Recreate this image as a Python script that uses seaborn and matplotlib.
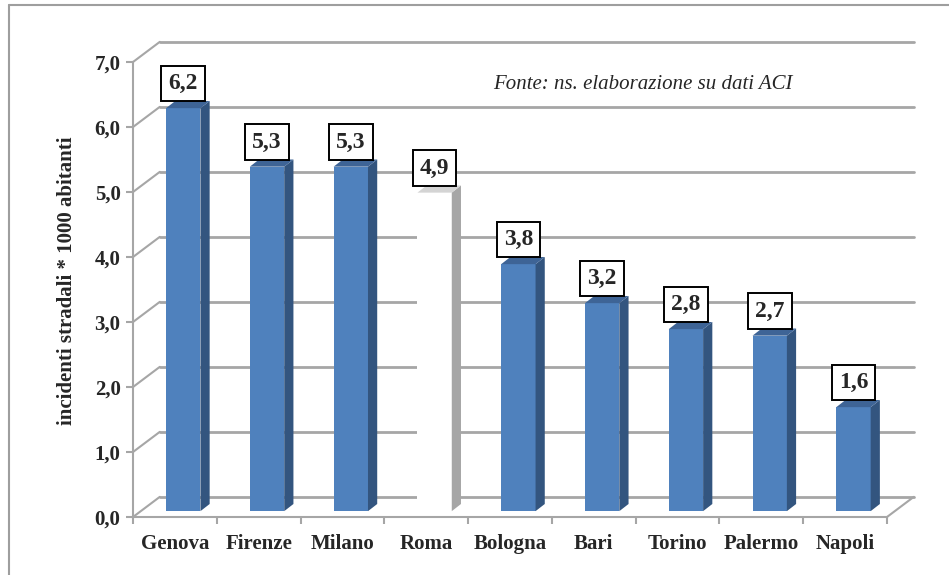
import numpy as np
import matplotlib
matplotlib.use("Agg")
import matplotlib.pyplot as plt
from matplotlib.patches import Polygon
from matplotlib.lines import Line2D
import seaborn as sns

# dati
citta = ["Genova", "Firenze", "Milano", "Roma", "Bologna", "Bari", "Torino", "Palermo", "Napoli"]
valori = [6.2, 5.3, 5.3, 4.9, 3.8, 3.2, 2.8, 2.7, 1.6]
etichette = ["6,2", "5,3", "5,3", "4,9", "3,8", "3,2", "2,8", "2,7", "1,6"]
y_ticks = [0, 1, 2, 3, 4, 5, 6, 7]
y_labels = ["0,0", "1,0", "2,0", "3,0", "4,0", "5,0", "6,0", "7,0"]
evidenziata = "Roma"

# stile
blu, blu_lato, blu_top = "#4F81BD", "#33557F", "#3E6496"
grigio_lato, grigio_top = "#A6A6A6", "#D4D4D4"
griglia = "#A6A6A6"
serif = "Liberation Serif"

# profondita' finta 3D (unita' dati)
dxb, dyb = 0.32, 0.31      # parete di fondo
ox, oy = 0.10, 0.09        # faccia frontale delle barre
ddx, ddy = 0.11, 0.11      # spessore barre

sns.set_style("white")
plt.rcParams["font.family"] = [serif, "DejaVu Serif"]

fig = plt.figure(figsize=(9.49, 5.75), dpi=100)
ax = fig.add_axes([133 / 949, 58 / 575, 754 / 949, 455 / 575])

colori = ["white" if c == evidenziata else blu for c in citta]
sns.barplot(x=citta, y=valori, hue=citta, palette=colori, width=0.41,
            legend=False, ax=ax, zorder=3, linewidth=0, saturation=1)

ax.set_xlim(-0.5, len(citta) - 0.5)
ax.set_ylim(0, 7)

# griglia sulla parete di fondo e pareti laterali
x_left, x_right = -0.5, len(citta) - 0.5
for k in y_ticks:
    ax.add_line(Line2D([x_left + dxb, x_right + dxb], [k + dyb, k + dyb],
                       color=griglia, lw=2, zorder=1, clip_on=False))
    ax.add_line(Line2D([x_left, x_left + dxb], [k, k + dyb],
                       color=griglia, lw=1.5, zorder=1, clip_on=False))
ax.add_line(Line2D([x_right, x_right + dxb], [0, dyb],
                   color=griglia, lw=1.5, zorder=1, clip_on=False))

# facce laterali e superiori
for p, c, v, lab in zip(ax.patches, citta, valori, etichette):
    p.set_x(p.get_x() + ox)
    p.set_y(oy)
    x0 = p.get_x()
    x1 = x0 + p.get_width()
    top = oy + v
    lato = grigio_lato if c == evidenziata else blu_lato
    sopra = grigio_top if c == evidenziata else blu_top
    ax.add_patch(Polygon([(x1, oy), (x1 + ddx, oy + ddy), (x1 + ddx, top + ddy), (x1, top)],
                         closed=True, facecolor=lato, edgecolor="none", zorder=3, clip_on=False))
    ax.add_patch(Polygon([(x0, top), (x0 + ddx, top + ddy), (x1 + ddx, top + ddy), (x1, top)],
                         closed=True, facecolor=sopra, edgecolor="none", zorder=3, clip_on=False))
    ax.annotate(lab, xy=((x0 + x1) / 2, top + ddy), xytext=(0, 5), textcoords="offset points",
                ha="center", va="bottom", fontsize=17, fontweight="bold", zorder=5,
                bbox=dict(boxstyle="square,pad=0.3", facecolor="white", edgecolor="black", lw=1.4),
                annotation_clip=False)

# assi
for s in ["top", "right"]:
    ax.spines[s].set_visible(False)
for s in ["left", "bottom"]:
    ax.spines[s].set_color(griglia)
    ax.spines[s].set_linewidth(1.5)

ax.set_yticks(y_ticks)
ax.set_yticklabels(y_labels, fontsize=15, fontweight="bold")
ax.tick_params(axis="y", direction="out", length=5, width=1.5, color=griglia, pad=4, left=True)
ax.set_xticks(range(len(citta)))
ax.set_xticklabels(citta, fontsize=15, fontweight="bold")
ax.set_xticks(np.arange(-0.5, len(citta), 1), minor=True)
ax.tick_params(axis="x", which="major", length=0, pad=12)
ax.tick_params(axis="x", which="minor", direction="out", length=5, width=1.5, color=griglia, bottom=True)
ax.set_xlabel("")
ax.set_ylabel("incidenti stradali * 1000 abitanti", fontsize=15, fontweight="bold")
ax.yaxis.set_label_coords(-0.074, 0.52)
ax.grid(False)
ax.set_facecolor("none")

ax.text(3.8, 6.65, "Fonte: ns. elaborazione su dati ACI", fontsize=15, fontstyle="italic",
        va="center", ha="left")

# cornice esterna (solo lati sinistro e superiore visibili)
fig.add_artist(Line2D([8.5 / 949, 8.5 / 949], [0, 1 - 5 / 575], transform=fig.transFigure,
                      color="#9E9E9E", lw=1.5))
fig.add_artist(Line2D([8.5 / 949, 1], [1 - 5 / 575, 1 - 5 / 575], transform=fig.transFigure,
                      color="#9E9E9E", lw=1.5))

fig.savefig("out.png", dpi=100)
